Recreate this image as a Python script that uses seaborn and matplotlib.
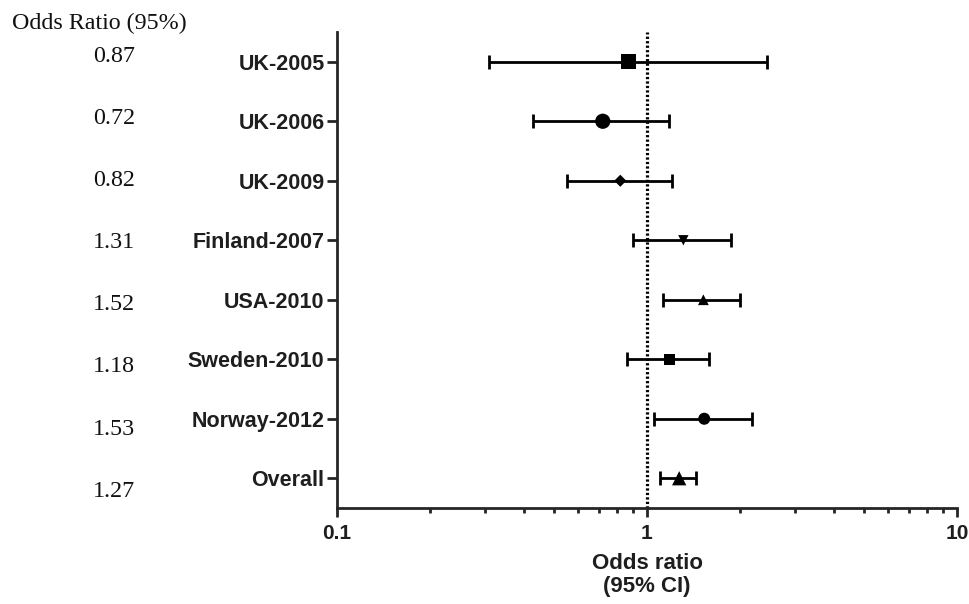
import matplotlib
matplotlib.use("Agg")
import matplotlib.pyplot as plt
import seaborn as sns
import pandas as pd
import numpy as np
from matplotlib.ticker import LogLocator, NullFormatter, FixedLocator, FixedFormatter

studies = ["UK-2005", "UK-2006", "UK-2009", "Finland-2007", "USA-2010",
           "Sweden-2010", "Norway-2012", "Overall"]
odds_ratio = [0.87, 0.72, 0.82, 1.31, 1.52, 1.18, 1.53, 1.27]
ci_low = [0.31, 0.43, 0.55, 0.90, 1.13, 0.86, 1.05, 1.10]
ci_high = [2.44, 1.18, 1.20, 1.87, 1.99, 1.59, 2.18, 1.44]
marker_shapes = ["s", "o", "D", "v", "^", "s", "o", "^"]
marker_sizes = [120, 120, 38, 55, 60, 65, 75, 105]
or_labels = ["0.87", "0.72", "0.82", "1.31", "1.52", "1.18", "1.53", "1.27"]

df = pd.DataFrame({"study": studies, "or": odds_ratio,
                   "lo": ci_low, "hi": ci_high, "row": np.arange(len(studies))})

sns.set_style("ticks")
plt.rcParams["font.family"] = ["Liberation Sans", "DejaVu Sans"]

fig = plt.figure(figsize=(9.69, 6.04), dpi=100)
ax = fig.add_axes([337 / 969, 1 - 508 / 604, (957 - 337) / 969, (508 - 32) / 604])

# confidence intervals
ax.errorbar(df["or"], df["row"],
            xerr=[df["or"] - df["lo"], df["hi"] - df["or"]],
            fmt="none", ecolor="black", elinewidth=2, capsize=4.8, capthick=2,
            zorder=2)

# point estimates
sns.scatterplot(data=df, x="or", y="row", style="study", size="study",
                markers=dict(zip(studies, marker_shapes)),
                sizes=dict(zip(studies, marker_sizes)),
                color="black", edgecolor="black", linewidth=0,
                legend=False, ax=ax, zorder=3)

# reference line at no effect
ax.axvline(1, color="black", linestyle=(0, (0.7, 0.7)), linewidth=2.3, zorder=1)

ax.set_xscale("log")
ax.set_xlim(0.1, 10)
ax.set_ylim(len(studies) - 0.5, -0.5)

ax.xaxis.set_major_locator(FixedLocator([0.1, 1, 10]))
ax.xaxis.set_major_formatter(FixedFormatter(["0.1", "1", "10"]))
ax.xaxis.set_minor_locator(LogLocator(base=10, subs=np.arange(2, 10)))
ax.xaxis.set_minor_formatter(NullFormatter())

ax.set_yticks(df["row"])
ax.set_yticklabels(studies)

for lab in ax.get_yticklabels():
    lab.set_fontweight("bold")
    lab.set_fontsize(15.5)
    lab.set_color("#1e1e1e")
for lab in ax.get_xticklabels():
    lab.set_fontweight("bold")
    lab.set_fontsize(15)
    lab.set_color("#1e1e1e")

ax.tick_params(axis="x", which="major", length=6.5, width=2, pad=5)
ax.tick_params(axis="x", which="minor", length=3.5, width=2)
ax.tick_params(axis="y", which="major", length=7, width=2, pad=2)

for side in ["left", "bottom"]:
    ax.spines[side].set_linewidth(2)
sns.despine(ax=ax)

ax.set_xlabel("Odds ratio\n(95% CI)", fontsize=16, fontweight="bold",
              color="#1e1e1e", labelpad=7, linespacing=1.15)
ax.set_ylabel("")

# printed odds ratios on the left
serif = ["Liberation Serif", "DejaVu Serif"]
fig.text(12 / 969, 1 - 29 / 604, "Odds Ratio (95%)", family=serif, fontsize=17.3,
         ha="left", va="baseline", color="#111111")
for i, txt in enumerate(or_labels):
    y_pix = 62 + 62.1 * i
    fig.text(114 / 969, 1 - y_pix / 604, txt, family=serif, fontsize=17.3,
             ha="center", va="baseline", color="#111111")

fig.savefig("out.png", dpi=100, facecolor="white")
